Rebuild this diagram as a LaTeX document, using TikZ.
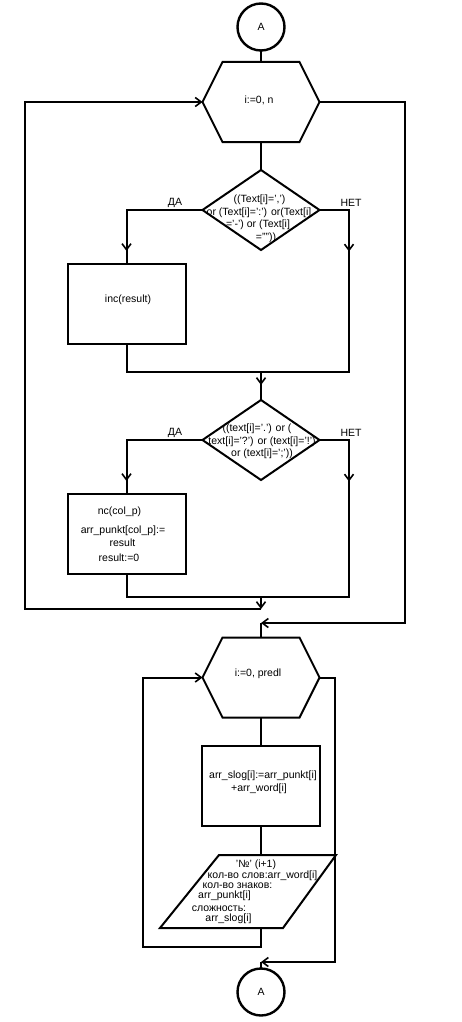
\documentclass[tikz,border=0pt]{standalone}
\usepackage{fontspec}
\setmainfont{Liberation Sans}
\usetikzlibrary{arrows.meta,decorations.markings}
\begin{document}
\begin{tikzpicture}[x=1pt,y=-1pt,
  ln/.style={line width=2pt, line join=miter},
  arr/.style={ln,-{Straight Barb[length=6pt,width=9pt,line width=1.6pt]}},
  midarr/.style={ln,postaction={decorate},decoration={markings,mark=at position #1 with {\arrow{Straight Barb[length=6pt,width=9pt,line width=1.6pt]}}}},
  txt/.style={font=\fontsize{10.5}{12.5}\selectfont, inner sep=0pt},
  box/.style={draw, ln, minimum width=118pt, minimum height=80pt, inner sep=0pt, outer sep=0pt},
  shp/.style={minimum width=117pt, minimum height=80pt, inner sep=0pt, outer sep=0pt},
  conn/.style={draw, circle, line width=2.4pt, minimum size=47pt, inner sep=0pt, outer sep=0pt, font=\fontsize{10.5}{12.5}\selectfont}]
\useasboundingbox (0,0) rectangle (462,1022);

% ---- shapes ----
\node[conn] (cA1) at (261,27) {A};

\node[shp] (h1) at (261,102) {};
\draw[ln] ([xshift=20pt]h1.north west) -- ([xshift=-20pt]h1.north east) -- (h1.east)
  -- ([xshift=-20pt]h1.south east) -- ([xshift=20pt]h1.south west) -- (h1.west) -- cycle;
\node[txt] (th1) at (259,100) {i:=0, n};

\node[shp] (d1) at (261,210) {};
\draw[ln] (d1.north) -- (d1.east) -- (d1.south) -- (d1.west) -- cycle;
\node[txt] (td1a) at (259.5,200) {((Text[i]=',')};
\node[txt] (td1b) at (259,213) {or (Text[i]=':') or(Text[i]};
\node[txt] (td1c) at (258,225) {='-') or (Text[i]};
\node[txt] (td1d) at (266,238) {=''''))};
\node[txt] (yes1) at (175,203) {ДА};
\node[txt] (no1) at (351,203) {НЕТ};

\node[box] (b1) at (126.5,304) {};
\node[txt] (tb1) at (128,300) {inc(result)};

\node[shp] (d2) at (261,440) {};
\draw[ln] (d2.north) -- (d2.east) -- (d2.south) -- (d2.west) -- cycle;
\node[txt] (td2a) at (257,429) {((text[i]='.') or (};
\node[txt] (td2b) at (262,442) {text[i]='?') or (text[i]='!')};
\node[txt] (td2c) at (262,454) {or (text[i]=';'))};
\node[txt] (yes2) at (175,433) {ДА};
\node[txt] (no2) at (351,433) {НЕТ};

\node[box] (b2) at (126.5,534) {};
\node[txt] (tb2a) at (119.5,512) {nc(col\_p)};
\node[txt] (tb2b) at (123,531) {arr\_punkt[col\_p]:=};
\node[txt] (tb2c) at (122.5,543) {result};
\node[txt] (tb2d) at (119,558) {result:=0};

\node[shp] (h2) at (261,677.5) {};
\draw[ln] ([xshift=20pt]h2.north west) -- ([xshift=-20pt]h2.north east) -- (h2.east)
  -- ([xshift=-20pt]h2.south east) -- ([xshift=20pt]h2.south west) -- (h2.west) -- cycle;
\node[txt] (th2) at (258,674) {i:=0, predl};

\node[box] (b3) at (260.5,786) {};
\node[txt] (tb3a) at (263,776) {arr\_slog[i]:=arr\_punkt[i]};
\node[txt] (tb3b) at (259,789) {+arr\_word[i]};

\node[minimum width=176pt, minimum height=73pt, inner sep=0pt, outer sep=0pt] (p) at (248,891.5) {};
\draw[ln] (p.south west) -- ([xshift=59pt]p.north west) -- (p.north east)
  -- ([xshift=-53pt]p.south east) -- cycle;
\node[txt] (tp1) at (256,865) {'№' (i+1)};
\node[txt] (tp2) at (262.5,876) {кол-во слов:arr\_word[i]};
\node[txt] (tp3) at (237.5,886) {кол-во знаков:};
\node[txt] (tp4) at (224.5,896) {arr\_punkt[i]};
\node[txt] (tp5) at (219,909) {сложность:};
\node[txt] (tp6) at (228.5,919) {arr\_slog[i]};

\node[conn] (cA2) at (261,992) {A};

% ---- coordinates ----
\coordinate (j1) at (261,372);
\coordinate (r1) at (349,372);
\coordinate (j2) at (261,597);
\coordinate (r2) at (349,597);
\coordinate (e1) at (261,609);
\coordinate (l1) at (25,609);
\coordinate (r3) at (405,623);
\coordinate (j3) at (261,623);
\coordinate (pt) at (261,855);
\coordinate (pb) at (261,928);
\coordinate (k1) at (261,947);
\coordinate (l2) at (143,947);
\coordinate (r4) at (335,962);
\coordinate (j4) at (261,962);

% ---- connectors ----
\draw[ln] (cA1.south) -- (h1.north);
\draw[ln] (h1.south) -- (d1.north);
\draw[midarr=117pt] (d1.west) -| (b1.north);
\draw[midarr=71pt] (d1.east) -| (r1) -- (j1);
\draw[ln] (b1.south) |- (j1);
\draw[midarr=13pt] (j1) -- (d2.north);
\draw[midarr=117pt] (d2.west) -| (b2.north);
\draw[midarr=71pt] (d2.east) -| (r2) -- (j2);
\draw[ln] (b2.south) |- (j2);
\draw[arr] (j2) -- (e1);
\draw[arr] (e1) -- (l1) |- (h1.west);
\draw[arr] (h1.east) -| (r3) -- (j3);
\draw[ln] (j3) -- (h2.north);
\draw[ln] (h2.south) -- (b3.north -| h2.south);
\draw[ln] (b3.south -| pt) -- (pt);
\draw[arr] (pb) -- (k1) -- (l2) |- (h2.west);
\draw[arr] (h2.east) -| (r4) -- (j4);
\draw[ln] (j4) -- (cA2.north);
\end{tikzpicture}
\end{document}
